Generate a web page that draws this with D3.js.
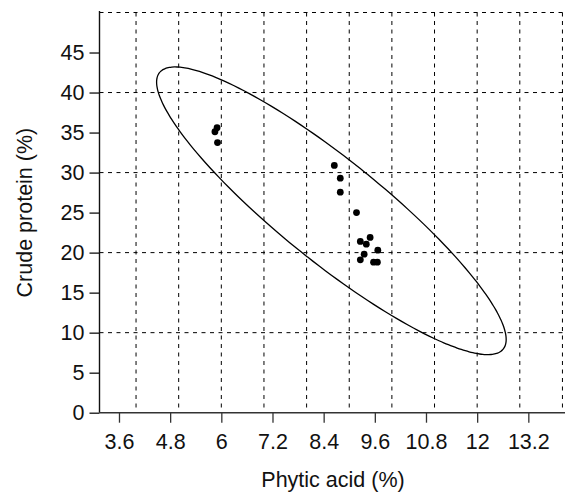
<!DOCTYPE html>
<html>
<head>
<meta charset="utf-8">
<script src="https://cdn.jsdelivr.net/npm/d3@7"></script>
<style>
  html, body { margin: 0; padding: 0; background: #fff; }
  svg { display: block; font-family: "Liberation Sans", Arial, sans-serif; }
</style>
</head>
<body>
<svg id="chart" width="565" height="492"></svg>
<script>
// Data
const phyticAcid = [8.65, 8.79, 8.79, 9.17, 9.26, 9.49, 9.40, 9.67, 9.35, 9.26, 9.57, 9.66, 5.90, 5.85, 5.91];
const crudeProtein = [30.9, 29.3, 27.55, 25.0, 21.4, 21.9, 21.05, 20.3, 19.8, 19.1, 18.8, 18.8, 35.6, 35.1, 33.75];
const xTicks = [3.6, 4.8, 6, 7.2, 8.4, 9.6, 10.8, 12, 13.2];
const yTicks = [0, 5, 10, 15, 20, 25, 30, 35, 40, 45];
const xGrid = [4, 5, 6, 7, 8, 9, 10, 11, 12, 13, 14];
const yGrid = [10, 20, 30, 40, 50];
const ellipseScale = 2.87;

(function () {
const svg = d3.select("#chart");
const pLeft = 99.5, pRight = 565, pTop = 12.5, pBottom = 412.7;
const fs = 21.5;

const x = d3.scaleLinear().domain([3.143, 14.06]).range([pLeft, pRight]);
const y = d3.scaleLinear().domain([0, 50]).range([pBottom, pTop]);

// grid
const grid = svg.append("g").attr("stroke", "#000").attr("stroke-width", 1)
  .attr("stroke-dasharray", "4,4.5");
grid.selectAll("line.v").data(xGrid).join("line").attr("class", "v")
  .attr("x1", d => x(d)).attr("x2", d => x(d))
  .attr("y1", y(50)).attr("y2", pBottom);
grid.selectAll("line.h").data(yGrid).join("line").attr("class", "h")
  .attr("x1", pLeft).attr("x2", pRight)
  .attr("y1", d => y(d)).attr("y2", d => y(d));

// ellipse from data covariance
const n = phyticAcid.length;
const mx = d3.mean(phyticAcid), my = d3.mean(crudeProtein);
let sxx = 0, syy = 0, sxy = 0;
for (let i = 0; i < n; i++) {
  const dx = phyticAcid[i] - mx, dy = crudeProtein[i] - my;
  sxx += dx * dx; syy += dy * dy; sxy += dx * dy;
}
sxx /= (n - 1); syy /= (n - 1); sxy /= (n - 1);
const l11 = Math.sqrt(sxx), l21 = sxy / l11, l22 = Math.sqrt(syy - l21 * l21);
const ellPts = d3.range(0, 360, 2).map(a => {
  const t = a * Math.PI / 180, c = Math.cos(t), s = Math.sin(t);
  return [mx + ellipseScale * (l11 * c), my + ellipseScale * (l21 * c + l22 * s)];
});
svg.append("path").datum(ellPts)
  .attr("d", d3.line().x(d => x(d[0])).y(d => y(d[1])).curve(d3.curveCardinalClosed))
  .attr("fill", "none").attr("stroke", "#000").attr("stroke-width", 1.3);

// points
svg.append("g").selectAll("circle").data(d3.range(n)).join("circle")
  .attr("cx", i => x(phyticAcid[i])).attr("cy", i => y(crudeProtein[i]))
  .attr("r", 3.4).attr("fill", "#000");

// axes
const yAxis = svg.append("g").attr("transform", `translate(${pLeft},0)`)
  .call(d3.axisLeft(y).tickValues(yTicks).tickSize(10).tickPadding(5).tickSizeOuter(0));
yAxis.select(".domain").attr("d", `M0,${pTop - 1.5}V${pBottom}`).attr("stroke", "#111").attr("stroke-width", 1.4);
yAxis.selectAll(".tick line").attr("stroke", "#111").attr("stroke-width", 1.3);
yAxis.selectAll("text").attr("font-size", fs).attr("fill", "#111")
  .attr("font-family", "Liberation Sans, Arial, sans-serif");

const xAxis = svg.append("g").attr("transform", `translate(0,${pBottom})`)
  .call(d3.axisBottom(x).tickValues(xTicks).tickFormat(d => String(d)).tickSize(10).tickPadding(11).tickSizeOuter(0));
xAxis.select(".domain").attr("d", `M${pLeft},0H${pRight}`).attr("stroke", "#333").attr("stroke-width", 1.4);
xAxis.selectAll(".tick line").attr("stroke", "#333").attr("stroke-width", 1.3);
xAxis.selectAll("text").attr("font-size", fs).attr("fill", "#111")
  .attr("font-family", "Liberation Sans, Arial, sans-serif");

// titles
svg.append("text").attr("x", 333).attr("y", 487).attr("text-anchor", "middle")
  .attr("font-size", fs).attr("fill", "#111").text("Phytic acid (%)");
svg.append("text").attr("transform", `translate(32,${(pTop + pBottom) / 2}) rotate(-90)`)
  .attr("text-anchor", "middle").attr("font-size", fs).attr("fill", "#111")
  .text("Crude protein (%)");
})();
</script>
</body>
</html>
